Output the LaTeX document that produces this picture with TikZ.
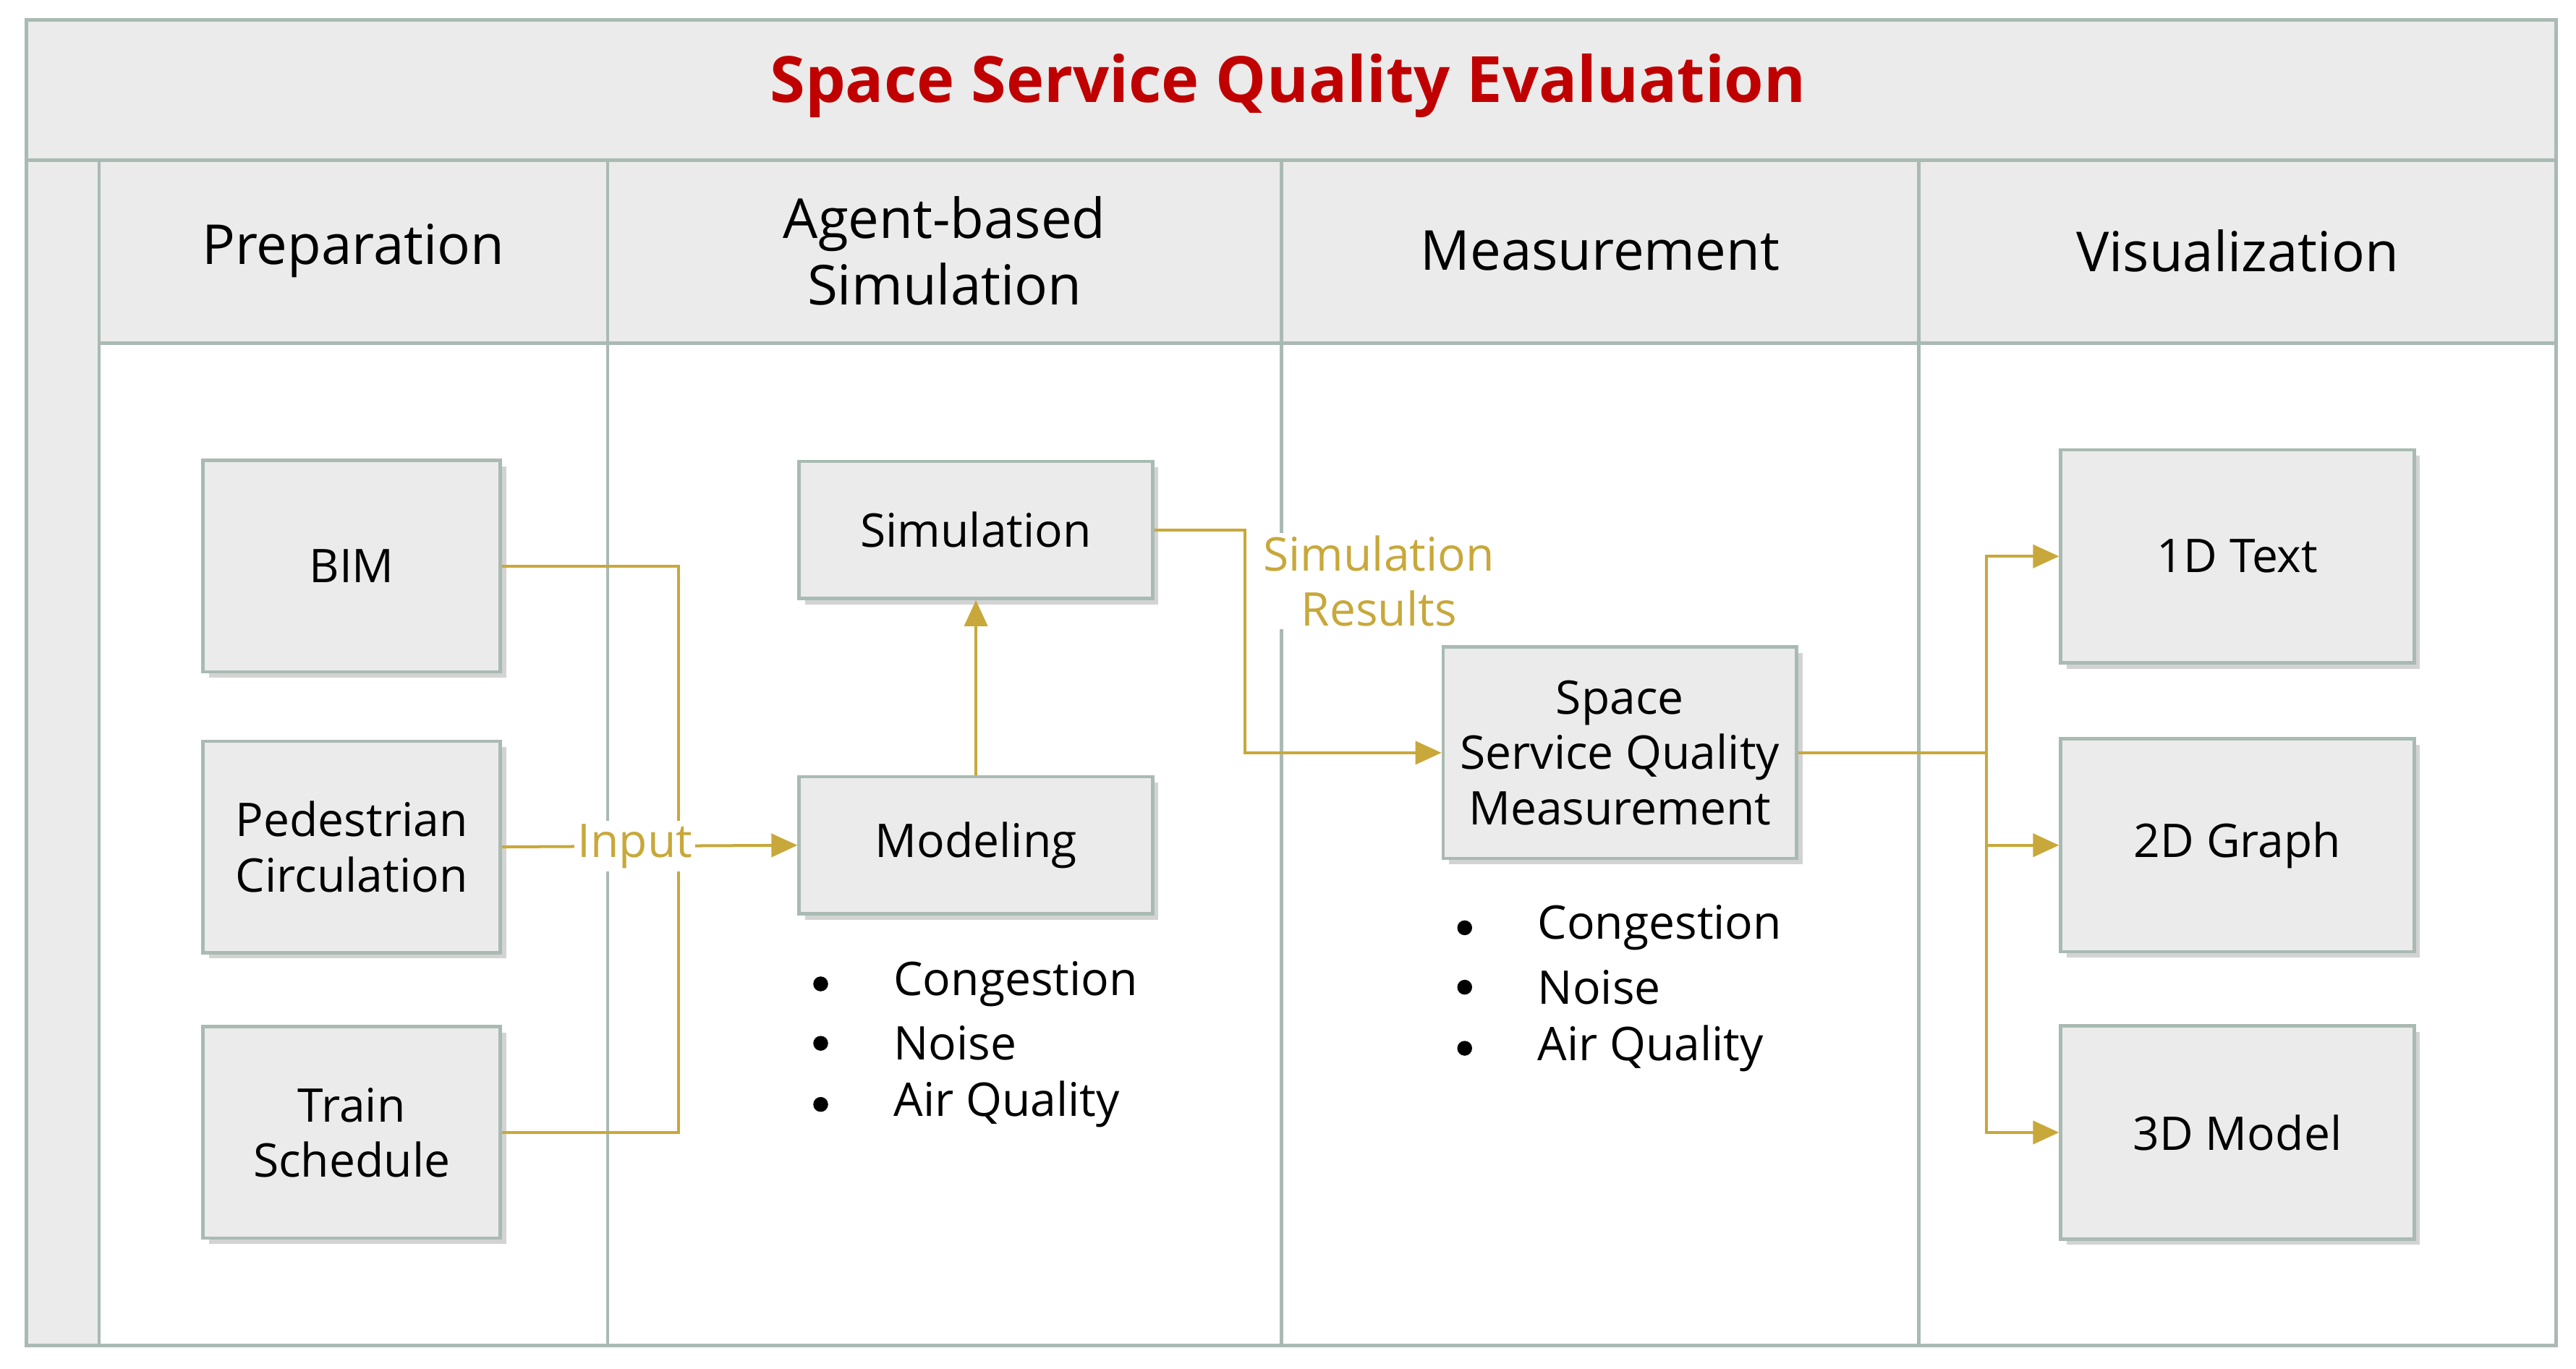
\documentclass[tikz,border=0pt]{standalone}
\usepackage{fontspec}
\setmainfont{Open Sans}
\usetikzlibrary{arrows.meta,shadows}
\definecolor{frame}{HTML}{A9BAB2}
\definecolor{hd}{HTML}{EBEBEB}
\definecolor{gold}{HTML}{C8A83A}
\definecolor{ttl}{HTML}{C00000}
\tikzset{
  bx/.style={draw=frame,line width=1.2pt,fill=hd,minimum width=214*0.02cm,minimum height=83*0.02cm,align=center,font=\fontsize{16}{19}\selectfont,inner sep=2pt,drop shadow={shadow xshift=2pt,shadow yshift=-2pt,opacity=0.35}},
  bb/.style={bx,minimum width=180*0.02cm,minimum height=128*0.02cm},
  cn/.style={draw=gold,line width=1pt},
  ar/.style={cn,-{Triangle[length=9pt,width=8pt]}},
  lane/.style={draw=frame,line width=1.2pt},
  hdtxt/.style={font=\fontsize{19}{23}\selectfont,align=center},
  bl/.style={font=\fontsize{16}{19}\selectfont,anchor=west},
  lbl/.style={text=gold,font=\fontsize{16}{19}\selectfont,fill=white,inner sep=1pt,align=center}
}
\begin{document}
\begin{tikzpicture}[x=0.02cm,y=-0.02cm]
\useasboundingbox (0,0) rectangle (1560,829);
% frame
\fill[hd] (16,12) rectangle (1548,97);
\fill[hd] (16,97) rectangle (60,815);
\fill[hd] (60,97) rectangle (1548,208);
\draw[lane] (16,12) rectangle (1548,815);
\draw[lane] (16,97) -- (1548,97);
\draw[lane] (60,97) -- (60,815);
\draw[lane] (60,208) -- (1548,208);
\foreach \x in {368,776,1162} \draw[lane] (\x,97) -- (\x,815);
\node[text=ttl,font=\fontsize{22}{26}\selectfont\bfseries] (title) at (780,52) {Space Service Quality Evaluation};
\node[hdtxt] (h1) at (214,152) {Preparation};
\node[hdtxt] (h2) at (572,152) {Agent-based\\Simulation};
\node[hdtxt] (h3) at (969,152) {Measurement};
\node[hdtxt] (h4) at (1355,152) {Visualization};
% boxes
\node[bb] (bim) at (213,343) {BIM};
\node[bb] (ped) at (213,513) {Pedestrian\\Circulation};
\node[bb] (train) at (213,686) {Train\\Schedule};
\node[bx] (sim) at (591,321) {Simulation};
\node[bx] (mod) at (591,512) {Modeling};
\node[bx,minimum height=128*0.02cm] (ssq) at (981,456) {Space\\Service Quality\\Measurement};
\node[bx,minimum height=129*0.02cm] (t1) at (1355,337) {1D Text};
\node[bx,minimum height=129*0.02cm] (t2) at (1355,512) {2D Graph};
\node[bx,minimum height=129*0.02cm] (t3) at (1355,686) {3D Model};
% connectors
\coordinate (j1) at (411,343);
\coordinate (j2) at (411,686);
\draw[cn] (bim.east) -- (j1) -- (j2) -- (train.east);
\draw[ar] (ped.east) -- node[lbl,pos=0.45] (inp) {Input} (mod.west);
\draw[ar] (mod.north) -- (sim.south);
\coordinate (s1) at (754,321);
\coordinate (s2) at (754,456);
\draw[ar] (sim.east) -- (s1) -- (s2) -- (ssq.west);
\node[lbl] (simres) at (835,352) {Simulation\\Results};
\coordinate (b0) at (1203,456);
\draw[cn] (ssq.east) -- (b0);
\draw[ar] (b0) |- (t1.west);
\draw[ar] (b0) |- (t2.west);
\draw[ar] (b0) |- (t3.west);
% bullets
\foreach \y/\t [count=\i] in {596/Congestion,632/Noise,669/Air Quality}{
  \fill (497,\y) circle (4.5);
  \node[bl] (a\i) at (535,\y) {\t};
}
\foreach \y/\t [count=\i] in {562/Congestion,598/Noise,635/Air Quality}{
  \fill (887,\y) circle (4.5);
  \node[bl] (b\i) at (925,\y) {\t};
}
\end{tikzpicture}
\end{document}
